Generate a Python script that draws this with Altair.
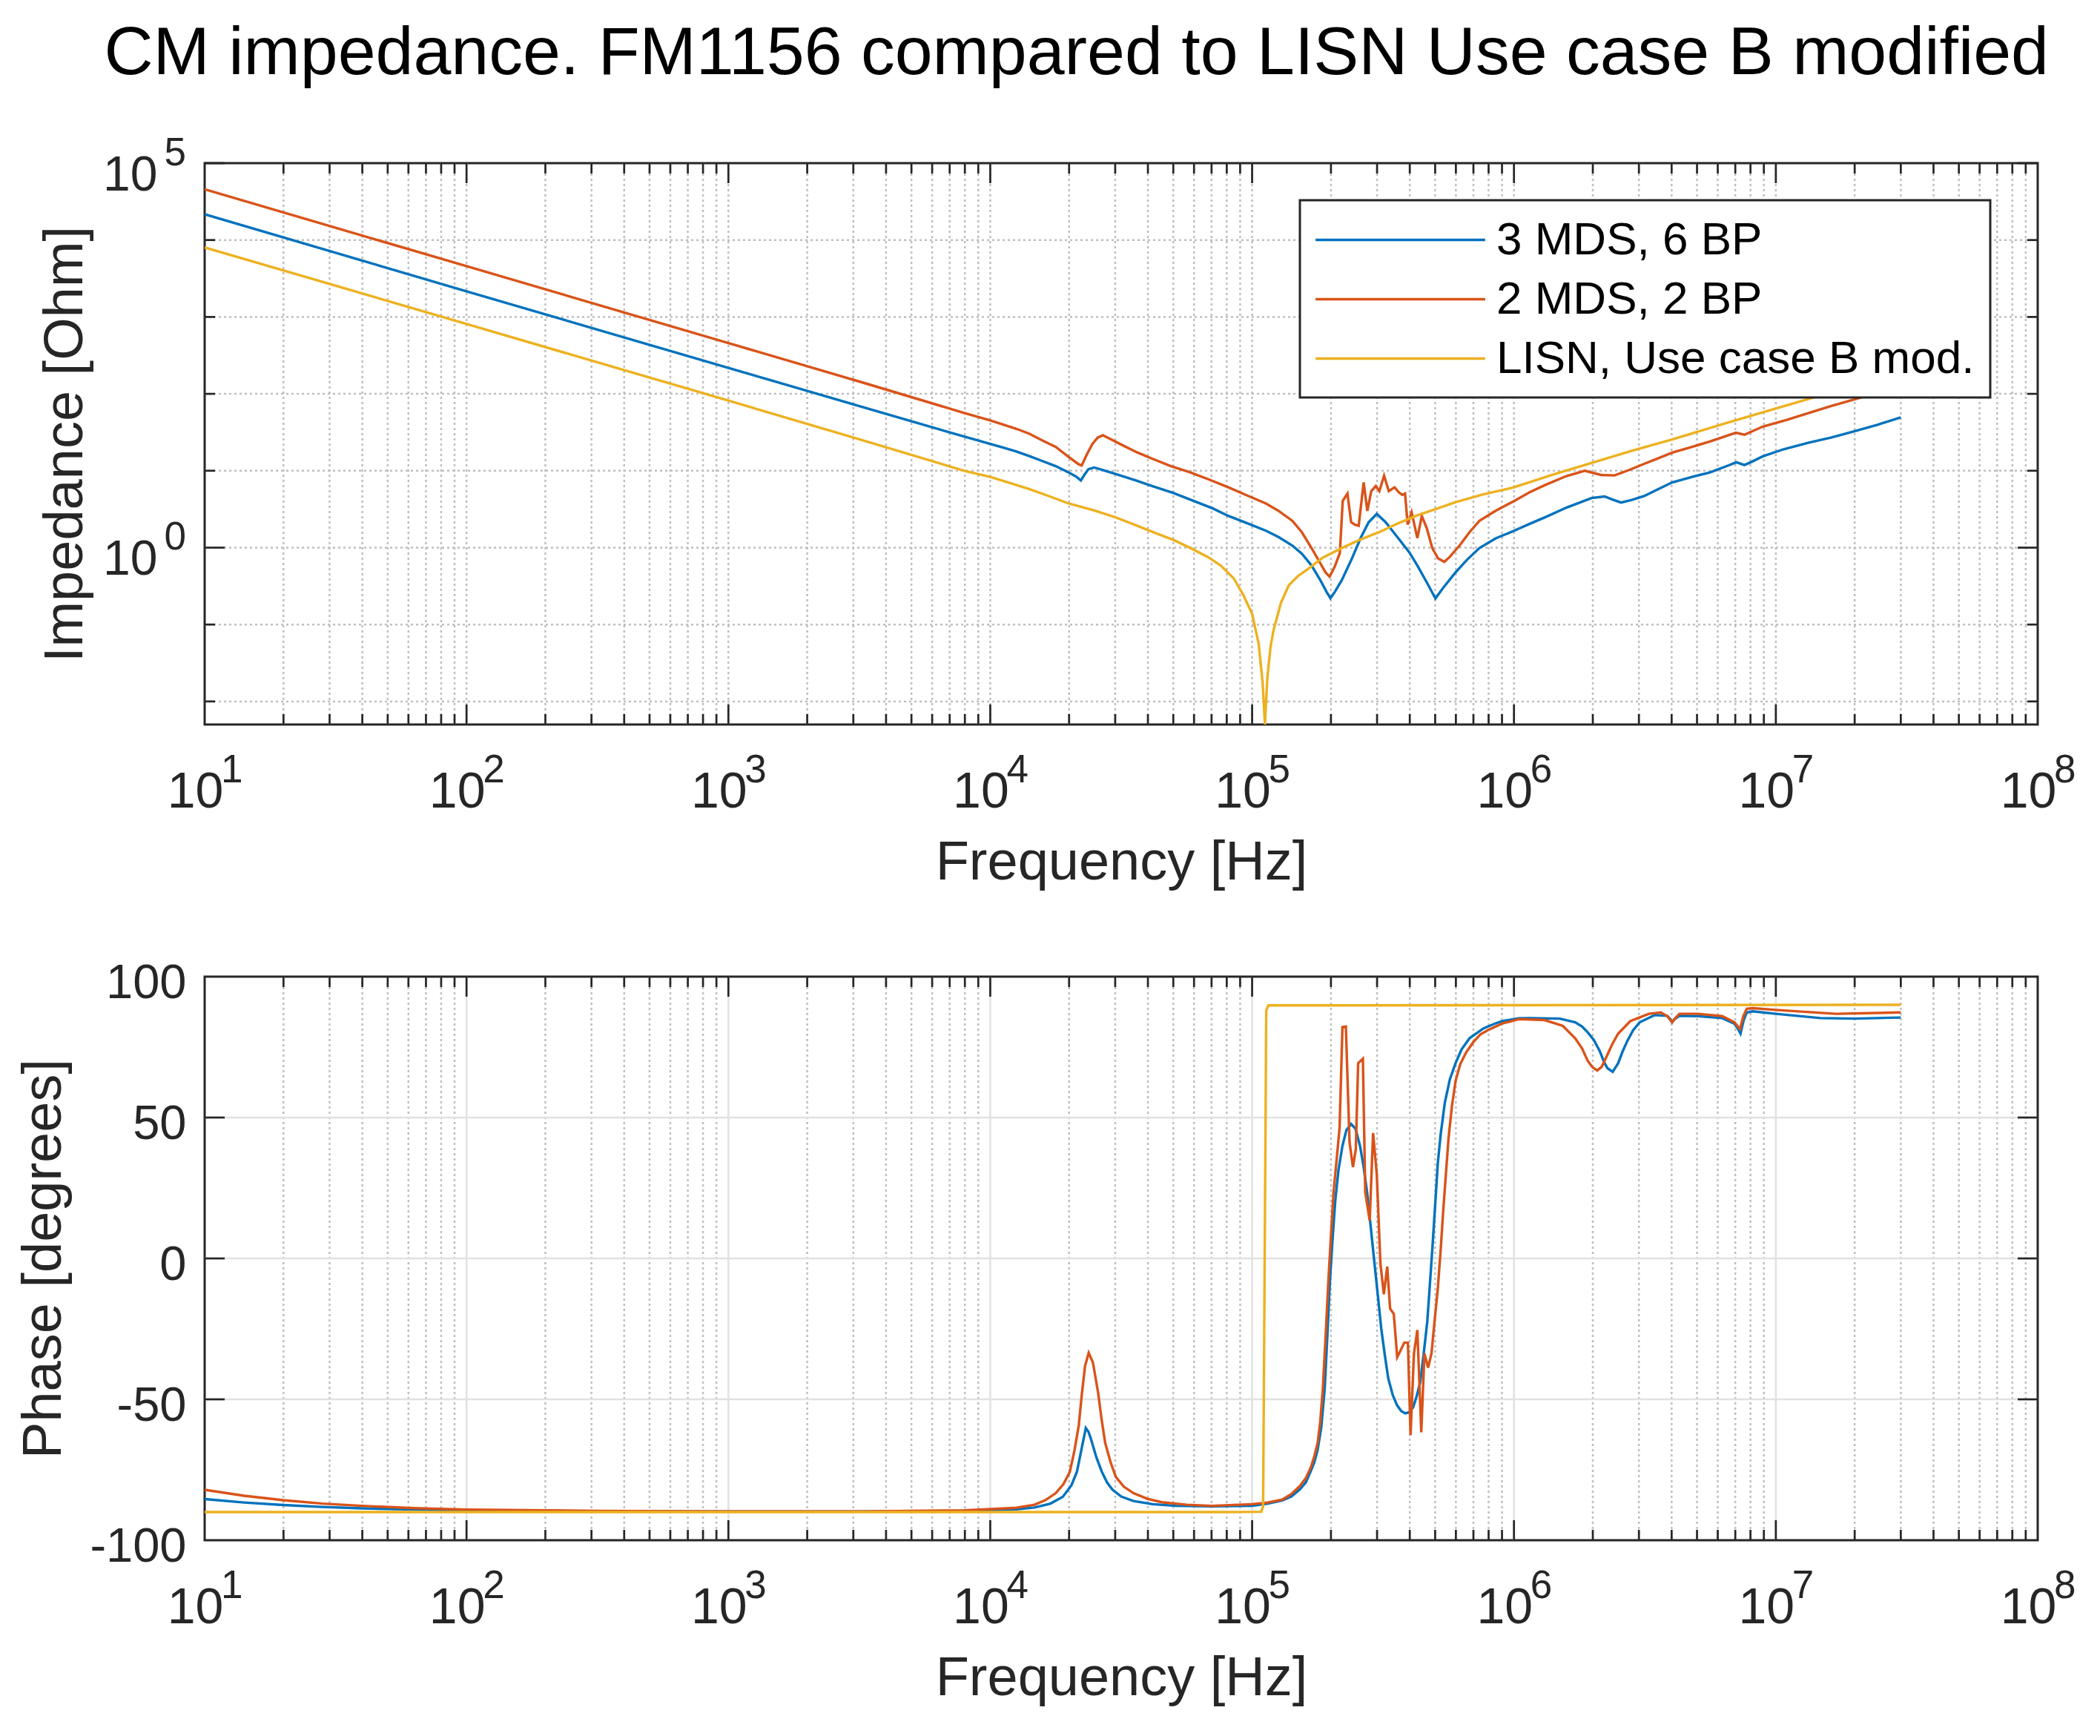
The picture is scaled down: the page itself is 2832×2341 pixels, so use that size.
import altair as alt
import pandas as pd

FONT = "Liberation Sans"
AX = "#262626"
GRID_DOT = "#bfbfbf"
GRID_SOLID = "#e1e1e1"

SERIES = ["3 MDS, 6 BP", "2 MDS, 2 BP", "LISN, Use case B mod."]
COLORS = ["#0072BD", "#D95319", "#EDB120"]

# ---- impedance readings: (log10 frequency [Hz], log10 |Z| [Ohm]) ----
mag_3mds = [(1.0, 4.335), (2.0, 3.333), (3.0, 2.338), (3.5, 1.84), (3.9, 1.445), (4.0, 1.348),
            (4.05, 1.30), (4.1, 1.25), (4.15, 1.19), (4.188, 1.14), (4.25, 1.06), (4.3, 0.977),
            (4.33, 0.92), (4.346, 0.874),
            (4.36, 0.95), (4.375, 1.02), (4.397, 1.042), (4.43, 1.01), (4.476, 0.961), (4.55, 0.88),
            (4.62, 0.80), (4.7, 0.71), (4.765, 0.623), (4.85, 0.51), (4.909, 0.413), (4.98, 0.32),
            (5.053, 0.219), (5.1, 0.14), (5.154, 0.026), (5.19, -0.08), (5.227, -0.232), (5.26, -0.42),
            (5.285, -0.58), (5.299, -0.658), (5.315, -0.58), (5.342, -0.426), (5.38, -0.15),
            (5.414, 0.123), (5.445, 0.33), (5.476, 0.439), (5.51, 0.33), (5.558, 0.123), (5.6, -0.06),
            (5.631, -0.232), (5.67, -0.47), (5.70, -0.661), (5.73, -0.52), (5.775, -0.329),
            (5.82, -0.16), (5.868, -0.006), (5.93, 0.12), (6.0, 0.219), (6.06, 0.31), (6.12, 0.397),
            (6.2, 0.52), (6.296, 0.645), (6.346, 0.665), (6.38, 0.62), (6.409, 0.587), (6.45, 0.62),
            (6.497, 0.671), (6.55, 0.76), (6.604, 0.848), (6.68, 0.92), (6.748, 0.977), (6.82, 1.07),
            (6.849, 1.11), (6.88, 1.074), (6.91, 1.12), (6.95, 1.187), (7.03, 1.28), (7.126, 1.365),
            (7.21, 1.43), (7.302, 1.516), (7.39, 1.6), (7.477, 1.694)]

mag_2mds = [(1.0, 4.66), (2.0, 3.66), (3.0, 2.66), (3.5, 2.16), (3.9, 1.752), (4.0, 1.655),
            (4.05, 1.60), (4.1, 1.545), (4.15, 1.48), (4.188, 1.413), (4.25, 1.31), (4.303, 1.171),
            (4.335, 1.09), (4.349, 1.068),
            (4.37, 1.22), (4.39, 1.348), (4.41, 1.43), (4.43, 1.461), (4.46, 1.41), (4.505, 1.332),
            (4.56, 1.24), (4.62, 1.155), (4.69, 1.06), (4.765, 0.977), (4.84, 0.88), (4.909, 0.784),
            (4.98, 0.68), (5.053, 0.574), (5.1, 0.48), (5.154, 0.348), (5.19, 0.2), (5.227, -0.006),
            (5.26, -0.2), (5.28, -0.32), (5.296, -0.377), (5.315, -0.25), (5.335, -0.071),
            (5.346, 0.606), (5.364, 0.703), (5.378, 0.332), (5.392, 0.3), (5.407, 0.284),
            (5.426, 0.848), (5.44, 0.477), (5.455, 0.735), (5.472, 0.8), (5.486, 0.735),
            (5.504, 0.935), (5.522, 0.735), (5.544, 0.784), (5.56, 0.72), (5.573, 0.687),
            (5.584, 0.703), (5.594, 0.3), (5.609, 0.461), (5.631, 0.123), (5.648, 0.413),
            (5.667, 0.252), (5.688, -0.006), (5.71, -0.14), (5.734, -0.184), (5.755, -0.12),
            (5.775, -0.039), (5.792, 0.026), (5.83, 0.2), (5.868, 0.348), (5.93, 0.48), (6.0, 0.606),
            (6.06, 0.72), (6.12, 0.816), (6.2, 0.93), (6.27, 1.0), (6.333, 0.945), (6.384, 0.939),
            (6.44, 1.01), (6.497, 1.09), (6.55, 1.16), (6.604, 1.235), (6.68, 1.31), (6.748, 1.381),
            (6.847, 1.494), (6.88, 1.468), (6.95, 1.574), (7.04, 1.66), (7.126, 1.752), (7.21, 1.84),
            (7.302, 1.929), (7.39, 2.015), (7.477, 2.10)]

mag_lisn = [(1.0, 3.904), (2.0, 2.908), (3.0, 1.912), (3.5, 1.41), (3.9, 1.0), (4.0, 0.919),
            (4.08, 0.835), (4.15, 0.76), (4.22, 0.675), (4.3, 0.574), (4.4, 0.48), (4.476, 0.397),
            (4.55, 0.30), (4.62, 0.203),
            (4.7, 0.1), (4.765, -0.006), (4.83, -0.12), (4.88, -0.232), (4.93, -0.40), (4.967, -0.619),
            (5.0, -0.86), (5.025, -1.25), (5.04, -1.75), (5.049, -2.3), (5.058, -1.7), (5.07, -1.3),
            (5.082, -1.071), (5.11, -0.72), (5.14, -0.49), (5.175, -0.37), (5.212, -0.281),
            (5.27, -0.13), (5.342, -0.006), (5.41, 0.1), (5.486, 0.203), (5.56, 0.32), (5.631, 0.42),
            (5.7, 0.5), (5.775, 0.59), (5.88, 0.69), (6.0, 0.784), (6.15, 0.95), (6.3, 1.106),
            (6.45, 1.26), (6.604, 1.406), (6.8, 1.61), (7.0, 1.81), (7.126, 1.935), (7.3, 2.11),
            (7.477, 2.29)]

# ---- phase readings: (log10 frequency [Hz], degrees) ----
ph_3mds = [(1.0, -85.4), (1.15, -86.6), (1.3, -87.5), (1.45, -88.2), (1.6, -88.7), (1.8, -89.1),
           (2.0, -89.4), (2.5, -89.7), (3.0, -89.8), (3.5, -89.8), (3.9, -89.6), (4.1, -89.0),
           (4.169, -88.4), (4.23, -87.0), (4.277, -84.6), (4.31, -80.5), (4.331, -75.7), (4.35, -67),
           (4.365, -60.2), (4.375, -61.5), (4.385, -64.2), (4.405, -70.5), (4.426, -75.7),
           (4.446, -79.5), (4.466, -82), (4.5, -84.5), (4.547, -86.1), (4.62, -87.2), (4.709, -87.8),
           (4.85, -88.0), (5.0, -87.8), (5.06, -87.0), (5.115, -85.9), (5.15, -84.5), (5.182, -82),
           (5.205, -79.5), (5.223, -75.7), (5.237, -72.5), (5.25, -68), (5.264, -60), (5.277, -46.4),
           (5.287, -28), (5.297, -8.3), (5.308, 8), (5.318, 21), (5.33, 31.5), (5.345, 40),
           (5.36, 45.5), (5.378, 47.7), (5.395, 46), (5.412, 40), (5.425, 33), (5.439, 23.5),
           (5.452, 12), (5.466, -0.6), (5.48, -13), (5.493, -24.8), (5.507, -34.5), (5.52, -42.6),
           (5.537, -48.5), (5.554, -52.2), (5.57, -54.2), (5.585, -55), (5.6, -54.6), (5.615, -52.8),
           (5.628, -49), (5.642, -43.9), (5.655, -34), (5.669, -22.3), (5.679, -9), (5.689, 4.5),
           (5.699, 19), (5.709, 33.7), (5.72, 44), (5.736, 55.3), (5.755, 63.5), (5.777, 69.3),
           (5.8, 74.2), (5.831, 78.2), (5.883, 81.6), (5.926, 83.3), (5.953, 84.2), (6.018, 85.2),
           (6.058, 85.3), (6.175, 85.1), (6.234, 83.8), (6.26, 82.3), (6.281, 80.3), (6.305, 77.5),
           (6.327, 73.7), (6.345, 69.5), (6.357, 67.5), (6.377, 66.2), (6.398, 69.3), (6.415, 73.5),
           (6.433, 77.2), (6.455, 81), (6.48, 83.8), (6.538, 86.4), (6.585, 86.1), (6.596, 85.0),
           (6.604, 83.8), (6.614, 85.0), (6.632, 86.1), (6.702, 86.0), (6.795, 85.3), (6.842, 83.3),
           (6.855, 81.5), (6.865, 79.8), (6.877, 84.5), (6.889, 87.3), (6.912, 87.7), (7.0, 86.8),
           (7.17, 85.3), (7.3, 85.1), (7.477, 85.5)]

ph_2mds = [(1.0, -82.1), (1.15, -84.2), (1.3, -85.8), (1.45, -87.0), (1.6, -87.8), (1.8, -88.6),
           (2.0, -89.1), (2.5, -89.6), (3.0, -89.8), (3.5, -89.8), (3.9, -89.4), (4.1, -88.5),
           (4.169, -87.4), (4.21, -85.8), (4.25, -83.3), (4.28, -80), (4.304, -75.7), (4.322, -68),
           (4.338, -59.2), (4.35, -48), (4.362, -38.2), (4.376, -33.5), (4.392, -36.9),
           (4.412, -47.7), (4.425, -57), (4.439, -65.5), (4.46, -72.5), (4.48, -77.6), (4.51, -81),
           (4.547, -83.3), (4.6, -85.3), (4.655, -86.5), (4.75, -87.4), (4.845, -87.8), (5.0, -87.2),
           (5.06, -86.6), (5.115, -85.6), (5.15, -83.6), (5.182, -80.8), (5.205, -78), (5.223, -74.4),
           (5.237, -70.5), (5.25, -65.5), (5.26, -58), (5.27, -46.4), (5.281, -27), (5.291, -8.3),
           (5.301, 8), (5.311, 23.5), (5.324, 36.3), (5.334, 46.4), (5.345, 82.1), (5.358, 82.3),
           (5.372, 41.3), (5.385, 32.4), (5.396, 38.8), (5.405, 69.3), (5.423, 70.9), (5.432, 23.5),
           (5.449, 13.4), (5.462, 44.5), (5.476, 29.9), (5.49, -1.9), (5.503, -12.7), (5.516, -2.9),
           (5.527, -17.8), (5.541, -19.7), (5.554, -35), (5.565, -33), (5.581, -29.9),
           (5.595, -29.9), (5.605, -62.7), (5.618, -33.7), (5.631, -25.4), (5.646, -61.7),
           (5.658, -33.7), (5.672, -38.8), (5.685, -33.7), (5.697, -22), (5.709, -10.8), (5.72, 3),
           (5.73, 17.2), (5.75, 42.6), (5.763, 54), (5.777, 63), (5.795, 69), (5.818, 73.2),
           (5.845, 76.8), (5.872, 79.5), (5.9, 81.0), (5.953, 83.3), (6.018, 84.9), (6.058, 84.8),
           (6.117, 84.6), (6.187, 82.5), (6.234, 78.1), (6.26, 74.5), (6.281, 70.2), (6.3, 67.8),
           (6.318, 66.7), (6.335, 68.0), (6.351, 71.1), (6.375, 76), (6.398, 79.8), (6.444, 84.2),
           (6.515, 86.8), (6.561, 87.3), (6.585, 86.0), (6.604, 83.8), (6.618, 85.5), (6.632, 86.8),
           (6.702, 86.8), (6.795, 86.0), (6.842, 83.8), (6.863, 81.4), (6.876, 86), (6.889, 88.6),
           (6.912, 88.8), (7.0, 88.2), (7.228, 86.8), (7.477, 87.3)]

ph_lisn = [(1.0, -90.0), (4.9, -90.0), (5.035, -89.9), (5.042, -88.0), (5.048, 0.0), (5.054, 88.0),
           (5.062, 89.8), (7.477, 90.0)]

# ---- axis tick / grid positions and tick-label exponents ----
x_decades = [10 ** k for k in range(1, 9)]
x_exponents = [str(k) for k in range(1, 9)]
x_major_inner = [10 ** k for k in range(2, 8)]
x_minor = [m * 10 ** k for k in range(1, 8) for m in range(2, 10)]
y_top_grid = [10.0 ** k for k in range(-2, 5)]
y_top_minor = [10.0 ** k for k in (-2, -1, 1, 2, 3, 4)]
y_top_major = [1.0, 1e5]
y_top_exponents = ["0", "5"]
y_bot_ticks = [-100, -50, 0, 50, 100]
y_bot_inner = [-50, 0, 50]

W, H1, H2 = 2472, 757, 760


def table(pairs, name, log_y):
    return pd.DataFrame({
        "f": [10 ** a for a, _ in pairs],
        "v": [(10 ** b) if log_y else b for _, b in pairs],
        "series": name,
    })


mag_df = pd.concat([table(mag_3mds, SERIES[0], True), table(mag_2mds, SERIES[1], True),
                    table(mag_lisn, SERIES[2], True)], ignore_index=True)
ph_df = pd.concat([table(ph_3mds, SERIES[0], False), table(ph_2mds, SERIES[1], False),
                   table(ph_lisn, SERIES[2], False)], ignore_index=True)

xscale = alt.Scale(type="log", domain=[10, 1e8], nice=False)
ytop_scale = alt.Scale(type="log", domain=[10 ** -2.3, 1e5], nice=False)
ybot_scale = alt.Scale(domain=[-100, 100], nice=False, zero=False)
color_scale = alt.Scale(domain=SERIES, range=COLORS)

X_AXIS = alt.Axis(values=x_decades, labelExpr="'10'", title="Frequency [Hz]",
                  ticks=False, tickSize=0, domain=False, grid=False,
                  labelFont=FONT, labelFontSize=68, labelColor=AX, labelPadding=111,
                  labelOffset=-13,
                  labelBaseline="alphabetic", labelFlush=False, labelOverlap=False,
                  titleFont=FONT, titleFontSize=74, titleFontWeight="normal", titleColor=AX,
                  titleBaseline="alphabetic", titleY=208)

YTOP_AXIS = alt.Axis(values=y_top_major, labelExpr="'10'", title="Impedance [Ohm]",
                     ticks=False, tickSize=0, domain=False, grid=False,
                     labelFont=FONT, labelFontSize=66, labelColor=AX, labelPadding=64,
                     labelAlign="right", labelBaseline="alphabetic", labelOffset=36,
                     labelFlush=False, labelOverlap=False,
                     titleFont=FONT, titleFontSize=74, titleFontWeight="normal",
                     titleColor=AX, titleAngle=270, titleBaseline="alphabetic", titleX=-166)

YBOT_AXIS = alt.Axis(values=y_bot_ticks, labelExpr="'' + datum.value", title="Phase [degrees]",
                     ticks=False, tickSize=0, domain=False, grid=False,
                     labelFont=FONT, labelFontSize=65, labelColor=AX, labelPadding=25,
                     labelAlign="right", labelBaseline="alphabetic", labelOffset=28,
                     labelFlush=False, labelOverlap=False,
                     titleFont=FONT, titleFontSize=74, titleFontWeight="normal",
                     titleColor=AX, titleAngle=270, titleBaseline="alphabetic", titleX=-195)


def vrules(vals, color, dash=None):
    kw = dict(color=color, strokeWidth=2.5)
    if dash:
        kw["strokeDash"] = dash
    return alt.Chart(pd.DataFrame({"g": vals})).mark_rule(**kw).encode(
        x=alt.X("g:Q", scale=xscale, axis=X_AXIS))


def hrules(vals, yscale, yaxis, color, dash=None):
    kw = dict(color=color, strokeWidth=2.5)
    if dash:
        kw["strokeDash"] = dash
    return alt.Chart(pd.DataFrame({"g": vals})).mark_rule(**kw).encode(
        y=alt.Y("g:Q", scale=yscale, axis=yaxis))


def xticks(vals, length, H):
    base = alt.Chart(pd.DataFrame({"t": vals})).mark_rule(color=AX, strokeWidth=2.7)
    xx = alt.X("t:Q", scale=xscale, axis=X_AXIS)
    return [base.encode(x=xx, y=alt.value(H), y2=alt.value(H - length)),
            base.encode(x=xx, y=alt.value(0), y2=alt.value(length))]


def yticks(vals, length, yscale, yaxis):
    base = alt.Chart(pd.DataFrame({"t": vals})).mark_rule(color=AX, strokeWidth=2.7)
    yy = alt.Y("t:Q", scale=yscale, axis=yaxis)
    return [base.encode(y=yy, x=alt.value(0), x2=alt.value(length)),
            base.encode(y=yy, x=alt.value(W), x2=alt.value(W - length))]


def x_exp_labels(H):
    # superscript part of the "10^k" frequency tick labels
    return alt.Chart(pd.DataFrame({"t": x_decades, "e": x_exponents})).mark_text(
        align="left", baseline="alphabetic", dx=22, dy=78, font=FONT, fontSize=53, color=AX
    ).encode(x=alt.X("t:Q", scale=xscale, axis=X_AXIS), y=alt.value(H), text="e:N")


y_exp_labels = alt.Chart(pd.DataFrame({"t": y_top_major, "e": y_top_exponents})).mark_text(
    align="right", baseline="alphabetic", dx=-25, dy=3, font=FONT, fontSize=53, color=AX
).encode(y=alt.Y("t:Q", scale=ytop_scale, axis=YTOP_AXIS), x=alt.value(0), text="e:N")

legend = alt.Legend(orient="none", legendX=1477, legendY=50, title=None,
                    symbolType="M-3.75,0H3.75", symbolSize=3721, symbolStrokeWidth=3.3,
                    symbolOffset=82, labelOffset=97, labelFont=FONT, labelFontSize=62,
                    labelColor="black", labelLimit=2000, padding=21, rowPadding=16,
                    strokeColor=AX, fillColor="white")

top_lines = alt.Chart(mag_df).mark_line(strokeWidth=3.4, clip=True).encode(
    x=alt.X("f:Q", scale=xscale, axis=X_AXIS),
    y=alt.Y("v:Q", scale=ytop_scale, axis=YTOP_AXIS),
    color=alt.Color("series:N", scale=color_scale, legend=legend),
)

top = alt.layer(
    vrules(x_minor + x_major_inner, GRID_DOT, [3, 4]),
    hrules(y_top_grid, ytop_scale, YTOP_AXIS, GRID_DOT, [3, 4]),
    top_lines,
    *xticks(x_minor, 14, H1),
    *xticks(x_major_inner, 27, H1),
    *yticks(y_top_minor, 14, ytop_scale, YTOP_AXIS),
    *yticks(y_top_major, 27, ytop_scale, YTOP_AXIS),
    x_exp_labels(H1),
    y_exp_labels,
).properties(width=W, height=H1)

bot_lines = alt.Chart(ph_df).mark_line(strokeWidth=3.4, clip=True).encode(
    x=alt.X("f:Q", scale=xscale, axis=X_AXIS),
    y=alt.Y("v:Q", scale=ybot_scale, axis=YBOT_AXIS),
    color=alt.Color("series:N", scale=color_scale, legend=None),
)

bottom = alt.layer(
    vrules(x_minor, GRID_DOT, [3, 4]),
    vrules(x_major_inner, GRID_SOLID),
    hrules(y_bot_inner, ybot_scale, YBOT_AXIS, GRID_SOLID),
    bot_lines,
    *xticks(x_minor, 14, H2),
    *xticks(x_major_inner, 27, H2),
    *yticks(y_bot_inner, 27, ybot_scale, YBOT_AXIS),
    x_exp_labels(H2),
).properties(width=W, height=H2)

chart = alt.vconcat(top, bottom, spacing=340, bounds="flush").resolve_scale(
    color="independent"
).properties(
    title=alt.TitleParams("CM impedance. FM1156 compared to LISN Use case B modified",
                          font=FONT, fontSize=91.5, fontWeight="normal", color="black",
                          anchor="middle", dx=41, offset=60),
    padding={"left": 12, "top": 19, "right": 10, "bottom": 10},
).configure(font=FONT).configure_view(stroke=AX, strokeWidth=3).configure_legend(strokeWidth=3)

chart.save("out.html", embed_options={"renderer": "svg", "actions": False})
